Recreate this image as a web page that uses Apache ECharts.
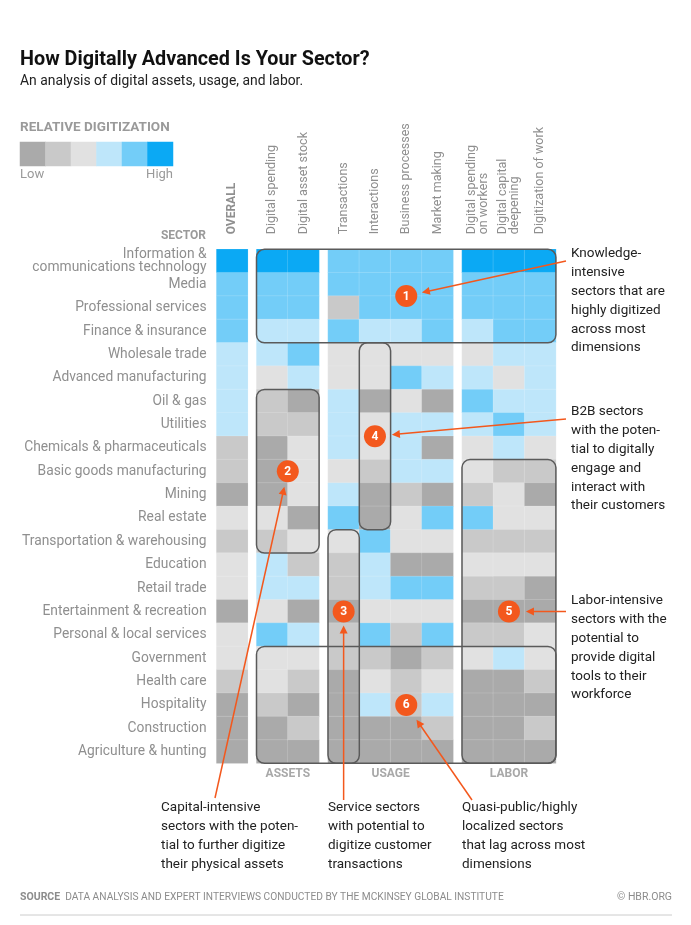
<!DOCTYPE html>
<html><head><meta charset="utf-8">
<script src="https://cdn.jsdelivr.net/npm/echarts@6/dist/echarts.min.js"></script>
<style>html,body{margin:0;padding:0;background:#fff}#c{width:691px;height:925px}</style>
</head><body><div id="c"></div>
<script>
// ---------- DATA ----------
const sectors = ['Information &\ncommunications technology','Media','Professional services','Finance & insurance','Wholesale trade','Advanced manufacturing','Oil & gas','Utilities','Chemicals & pharmaceuticals','Basic goods manufacturing','Mining','Real estate','Transportation & warehousing','Education','Retail trade','Entertainment & recreation','Personal & local services','Government','Health care','Hospitality','Construction','Agriculture & hunting'];
const overallCols = ['OVERALL'];
const assetCols = ['Digital spending','Digital asset stock'];
const usageCols = ['Transactions','Interactions','Business processes','Market making'];
const laborCols = ['Digital spending\non workers','Digital capital\ndeepening','Digitization of work'];
const groupLabels = ['ASSETS','USAGE','LABOR'];
const levels = [1,2,3,4,5,6]; // 1 = low ... 6 = high

const overall           = [6,5,5,5,4,4,4,4,2,2,1,3,2,3,3,1,3,3,2,1,1,1];
const digitalSpending   = [6,5,5,4,4,3,2,2,1,1,1,3,2,4,4,3,5,3,3,2,1,1];
const digitalAssetStock = [6,5,5,4,5,4,1,2,3,3,3,1,3,2,4,1,4,3,2,1,2,1];
const transactions      = [5,5,2,5,3,3,4,4,4,3,4,5,3,2,2,1,2,2,1,1,1,1];
const interactions      = [5,5,5,4,3,3,1,3,3,2,1,1,5,4,4,3,5,2,3,4,1,1];
const businessProcesses = [5,5,5,4,3,5,3,4,4,4,2,3,3,1,5,3,2,1,2,2,1,1];
const marketMaking      = [5,5,5,5,3,4,1,4,1,4,1,5,3,1,5,3,5,2,3,4,2,1];
const spendingOnWorkers = [6,5,5,4,3,4,5,4,3,3,2,5,2,3,2,1,2,3,1,1,1,1];
const capitalDeepening  = [6,5,5,5,4,3,4,5,4,2,3,3,2,3,2,1,2,4,1,1,1,1];
const digitizationOfWork= [6,5,5,5,4,4,4,4,3,2,1,3,2,3,1,1,3,3,2,1,2,1];

// annotation boxes: [gridFrom, colFrom, rowFrom, gridTo, colTo, rowTo]
const boxes = [[1,0,0,3,2,3],[1,0,6,1,1,12],[2,1,4,2,1,11],[2,0,12,2,0,21],[3,0,9,3,2,21],[1,0,17,3,2,21]];
// markers: [number, grid, col, row]
const markers = [[1,2,2,1.5],[2,1,0.5,9],[3,2,0,15],[4,2,1,7.5],[5,3,1,15],[6,2,2,19]];
const notesRight = [
  ['Knowledge-','intensive','sectors that are','highly digitized','across most','dimensions'],
  ['B2B sectors','with the poten-','tial to digitally','engage and','interact with','their customers'],
  ['Labor-intensive','sectors with the','potential to','provide digital','tools to their','workforce']
];
const notesBottom = [
  ['Capital-intensive','sectors with the poten-','tial to further digitize','their physical assets'],
  ['Service sectors','with potential to','digitize customer','transactions'],
  ['Quasi-public/highly','localized sectors','that lag across most','dimensions']
];

// ---------- STYLE / LAYOUT ----------
const colors = ['#aaaaaa','#c9c9c9','#e1e1e1','#bee6fa','#73cdf8','#0ba9f4'];
const FONT = 'Roboto';
const ORANGE = '#f3581d';
const colGroups = [overallCols, assetCols, usageCols, laborCols];
const valueGroups = [[overall],[digitalSpending,digitalAssetStock],[transactions,interactions,businessProcesses,marketMaking],[spendingOnWorkers,capitalDeepening,digitizationOfWork]];
const gridLeft = [216.5, 256.5, 328, 462];
const cellW = 31.3, topY = 249.3, gridH = 514;

const grids = [], xAxes = [], yAxes = [], series = [];
colGroups.forEach((cols, g) => {
  grids.push({left: gridLeft[g], top: topY, width: cellW*cols.length, height: gridH});
  xAxes.push({type:'category', gridIndex:g, position:'top', data:cols,
    axisLine:{show:false}, axisTick:{show:false}, splitLine:{show:false},
    axisLabel:{interval:0, rotate:-90, margin:15, color:'#8f8f8f',
      fontFamily:FONT, fontSize: g===0?12:12.5, fontWeight: g===0?'bold':'normal', lineHeight:12}});
  yAxes.push({type:'category', gridIndex:g, inverse:true, data:sectors,
    axisLine:{show:false}, axisTick:{show:false}, splitLine:{show:false},
    axisLabel:{show: g===0, margin:10, color:'#8f8f8f', fontFamily:FONT, fontSize:13.8, lineHeight:13, padding:[4,0,0,0]}});
  const data = [];
  valueGroups[g].forEach((arr, c) => arr.forEach((v, r) => data.push([c, r, v])));
  series.push({type:'heatmap', xAxisIndex:g, yAxisIndex:g, data,
    itemStyle:{borderColor:'rgba(255,255,255,0.3)', borderWidth:0.5},
    emphasis:{disabled:true}});
});
// legend swatches as a tiny heatmap
grids.push({left:20, top:142, width:153, height:24});
xAxes.push({type:'category', gridIndex:4, data:levels, show:false});
yAxes.push({type:'category', gridIndex:4, data:[''], show:false});
series.push({type:'heatmap', xAxisIndex:4, yAxisIndex:4, data: levels.map((v,i)=>[i,0,v]), emphasis:{disabled:true}});

const chart = echarts.init(document.getElementById('c'));
chart.setOption({
  animation:false,
  textStyle:{fontFamily:FONT},
  grid: grids, xAxis: xAxes, yAxis: yAxes, series,
  visualMap:{type:'piecewise', show:false, dimension:2, seriesIndex:[0,1,2,3,4],
    pieces: levels.map((v,i)=>({value:v, color:colors[i]}))}
});

// ---------- ANNOTATIONS (positioned via the chart's own scales) ----------
const base = colGroups.map((cols,g) => {
  const p0 = chart.convertToPixel({gridIndex:g}, [0,0]);
  const p1 = chart.convertToPixel({gridIndex:g}, [cols.length>1?1:0, 1]);
  return {x0:p0[0], y0:p0[1], w: cols.length>1 ? p1[0]-p0[0] : cellW, h: p1[1]-p0[1]};
});
const pt = (g,c,r) => [base[g].x0 + c*base[g].w, base[g].y0 + r*base[g].h];

const gfx = [];
const txt = (x,y,text,o) => gfx.push({type:'text', x, y, z:10, style:Object.assign({text, fontFamily:FONT, fill:'#222', fontSize:13, verticalAlign:'middle'}, o||{})});

txt(20,60,'How Digitally Advanced Is Your Sector?',{fontSize:19.8, fontWeight:'bold', fill:'#111'});
txt(20,82,'An analysis of digital assets, usage, and labor.',{fontSize:13.9, fill:'#222'});
txt(20,128,'RELATIVE DIGITIZATION',{fontSize:13.5, fontWeight:'bold', fill:'#9a9a9a'});
txt(20,175,'Low',{fontSize:13, fill:'#9a9a9a'});
txt(173,175,'High',{fontSize:13, fill:'#9a9a9a', align:'right'});
txt(206,236,'SECTOR',{fontSize:12, fontWeight:'bold', fill:'#9a9a9a', align:'right'});
groupLabels.forEach((lab,i) => {
  const g = i+1, n = colGroups[g].length;
  const c = pt(g, (n-1)/2, 0);
  txt(c[0], 774, lab, {fontSize:12, fontWeight:'bold', fill:'#a8a8a8', align:'center'});
});

boxes.forEach(b => {
  const a = pt(b[0], b[1]-0.5, b[2]-0.5), e = pt(b[3], b[4]+0.5, b[5]+0.5);
  gfx.push({type:'rect', z:20, shape:{x:a[0], y:a[1], width:e[0]-a[0], height:e[1]-a[1], r:8},
    style:{fill:'none', stroke:'#5a5a5a', lineWidth:1.5}});
});

const mpos = {};
markers.forEach(m => { mpos[m[0]] = pt(m[1], m[2], m[3]); });

function arrow(start, n, gap) {
  const t = mpos[n];
  let dx = start[0]-t[0], dy = start[1]-t[1];
  const L = Math.hypot(dx,dy); dx/=L; dy/=L;
  const end = [t[0]+dx*gap, t[1]+dy*gap];
  gfx.push({type:'line', z:30, shape:{x1:start[0], y1:start[1], x2:end[0]+dx*4, y2:end[1]+dy*4},
    style:{stroke:ORANGE, lineWidth:1.5}});
  const bx = end[0]+dx*8, by = end[1]+dy*8, px = -dy*4, py = dx*4;
  gfx.push({type:'polygon', z:30, shape:{points:[end,[bx+px,by+py],[bx-px,by-py]]}, style:{fill:ORANGE}});
}
arrow([566,261],1,16);
arrow([566,419],4,17);
arrow([566,611.5],5,17);
arrow([215,798],2,16);
arrow([343.6,800],3,14);
arrow([472,800],6,18);

markers.forEach(m => {
  const p = mpos[m[0]];
  gfx.push({type:'circle', z:40, shape:{cx:p[0], cy:p[1], r:11}, style:{fill:ORANGE}});
  gfx.push({type:'text', z:41, x:p[0], y:p[1]+0.5, style:{text:String(m[0]), fill:'#fff', fontFamily:FONT, fontWeight:'bold', fontSize:12, align:'center', verticalAlign:'middle'}});
});

const rightY = [254, 412, 601];
notesRight.forEach((lines,i) => txt(571, rightY[i]-9.4, lines.join('\n'), {lineHeight:18.8, verticalAlign:'top', fontSize:13.5}));
const bottomX = [161, 328, 462];
notesBottom.forEach((lines,i) => txt(bottomX[i], 808-9.4, lines.join('\n'), {lineHeight:18.9, verticalAlign:'top', fontSize:13.5}));

gfx.push({type:'text', x:20, y:897, z:10, style:{text:'{b|SOURCE}  DATA ANALYSIS AND EXPERT INTERVIEWS CONDUCTED BY THE MCKINSEY GLOBAL INSTITUTE',
  fontFamily:FONT, fontSize:10.2, fill:'#8c8c8c', verticalAlign:'middle',
  rich:{b:{fontWeight:'bold', fontSize:10.5, fill:'#8c8c8c', fontFamily:FONT}}}});
txt(672,897,'© HBR.ORG',{fontSize:10.5, fill:'#8c8c8c', align:'right'});
gfx.push({type:'line', z:10, shape:{x1:20, y1:915, x2:672, y2:915}, style:{stroke:'#cccccc', lineWidth:1}});

chart.setOption({graphic: gfx});
</script>
</body></html>
